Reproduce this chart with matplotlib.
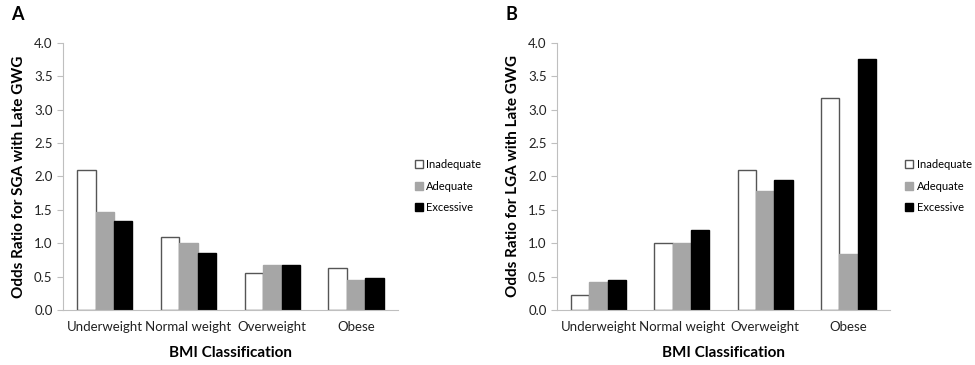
import numpy as np
import matplotlib
matplotlib.use("Agg")
import matplotlib.pyplot as plt

plt.rcParams['font.family'] = ['Lato', 'DejaVu Sans']

categories = ["Underweight", "Normal weight", "Overweight", "Obese"]
series = ["Inadequate", "Adequate", "Excessive"]

sga_inadequate = [2.10, 1.09, 0.55, 0.63]
sga_adequate = [1.47, 1.00, 0.67, 0.45]
sga_excessive = [1.33, 0.86, 0.67, 0.48]

lga_inadequate = [0.22, 1.01, 2.10, 3.17]
lga_adequate = [0.42, 1.00, 1.79, 0.84]
lga_excessive = [0.45, 1.20, 1.95, 3.76]

yticks = [0.0, 0.5, 1.0, 1.5, 2.0, 2.5, 3.0, 3.5, 4.0]

fills = ["white", "#a6a6a6", "black"]
edges = ["#555555", "#a6a6a6", "black"]

fig = plt.figure(figsize=(9.75, 3.65), dpi=100)
ax1 = fig.add_axes([0.0646, 0.1507, 0.3436, 0.7315])
ax2 = fig.add_axes([0.5713, 0.1507, 0.3415, 0.7315])


def draw(ax, vals, ylabel, letter, legx):
    x = np.arange(len(categories))
    w = 0.22
    for i, v in enumerate(vals):
        ax.bar(x + (i - 1) * w, v, w, color=fills[i], edgecolor=edges[i],
               linewidth=1.0, label=series[i])
    ax.set_xlim(-0.5, len(categories) - 0.5)
    ax.set_ylim(0, 4.0)
    ax.set_yticks(yticks)
    ax.set_yticklabels([f"{t:.1f}" for t in yticks])
    ax.set_xticks(x)
    ax.set_xticklabels(categories)
    for s in ["top", "right"]:
        ax.spines[s].set_visible(False)
    ax.spines["left"].set_color("#bfbfbf")
    ax.spines["bottom"].set_color("#bfbfbf")
    ax.tick_params(axis="y", length=4, color="#bfbfbf", labelsize=9.5)
    ax.tick_params(axis="x", length=0, labelsize=9.5, pad=8)
    for lab in ax.get_yticklabels() + ax.get_xticklabels():
        lab.set_color("#222222")
    ax.set_xlabel("BMI Classification", fontsize=11, fontweight="bold", labelpad=9)
    ax.set_ylabel(ylabel, fontsize=11, fontweight="bold", labelpad=6)
    ax.text(-0.155, 1.105, letter, transform=ax.transAxes, fontsize=13,
            fontweight="bold", va="center")
    ax.legend(loc="center left", bbox_to_anchor=(legx, 0.464), frameon=False,
              fontsize=8, handlelength=0.75, handleheight=0.75,
              handletextpad=0.3, labelspacing=0.95, borderaxespad=0,
              borderpad=0)


draw(ax1, [sga_inadequate, sga_adequate, sga_excessive],
     "Odds Ratio for SGA with Late GWG", "A", 1.05)
draw(ax2, [lga_inadequate, lga_adequate, lga_excessive],
     "Odds Ratio for LGA with Late GWG", "B", 1.045)

fig.savefig("out.png", dpi=100)
